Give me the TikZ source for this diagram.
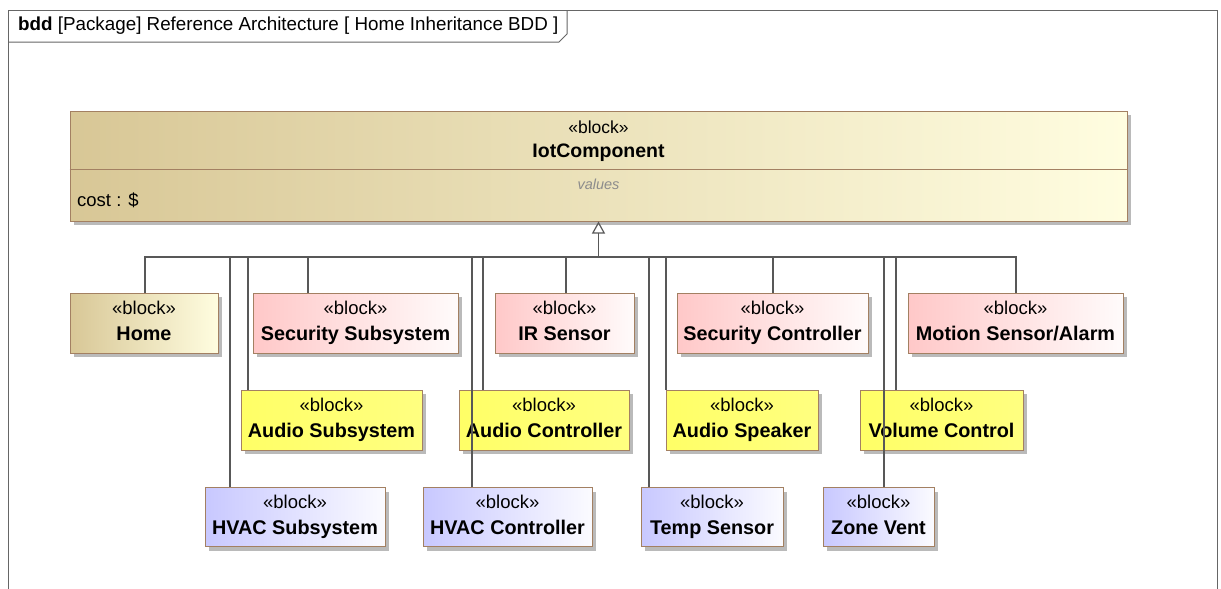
\documentclass[tikz,border=0pt]{standalone}
\usepackage{fontspec}
\setmainfont{Liberation Sans}
\usetikzlibrary{arrows.meta,shadows}

\definecolor{tanleft}{RGB}{216,199,150}
\definecolor{tanright}{RGB}{255,253,224}
\definecolor{pinkleft}{RGB}{255,200,200}
\definecolor{pinkright}{RGB}{255,251,251}
\definecolor{yellowleft}{RGB}{255,255,102}
\definecolor{yellowright}{RGB}{255,255,128}
\definecolor{blueleft}{RGB}{200,200,255}
\definecolor{blueright}{RGB}{251,251,255}
\definecolor{blockedge}{RGB}{163,128,98}
\definecolor{linegray}{RGB}{88,88,88}

\tikzset{
  block/.style={draw=blockedge, line width=1pt, rectangle, inner sep=0pt, align=center,
    minimum height=60pt, text depth=5pt, font=\fontsize{18.5}{26}\selectfont,
    drop shadow={shadow xshift=4pt, shadow yshift=-4pt, fill=black!45, opacity=0.6}},
  tanblock/.style={block, left color=tanleft, right color=tanright},
  pinkblock/.style={block, left color=pinkleft, right color=pinkright},
  yellowblock/.style={block, left color=yellowleft, right color=yellowright},
  blueblock/.style={block, left color=blueleft, right color=blueright},
  gen/.style={draw=linegray, line width=1.2pt},
  frame/.style={draw=black!60, line width=1pt}
}
\newcommand{\bname}[1]{{\fontsize{19.8}{26}\selectfont\bfseries #1}}

\begin{document}
\begin{tikzpicture}[x=1pt, y=-1pt]
\clip (0,0) rectangle (1221,589);
\fill[white] (0,0) rectangle (1221,589);

% diagram frame and its name tab
\draw[frame] (8,600) -- (8,10) -- (1217,10) -- (1217,600);
\draw[frame] (8,42) -- (559,42) -- (567,34) -- (567,10);
\node[anchor=west, inner sep=0pt, font=\fontsize{18.8}{22}\selectfont] (title) at (18,26)
{\textbf{bdd} [Package] Reference Architecture [ Home Inheritance BDD ]};

% general block
\node[tanblock, minimum width=1057pt, minimum height=110pt] (iot) at (598.5,166) {};
\draw[draw=blockedge, line width=1pt] ([yshift=-3pt]iot.west) -- ([yshift=-3pt]iot.east);
\node[font=\fontsize{17.5}{20}\selectfont] (iotst) at (598.5,127) {«block»};
\node[font=\fontsize{19.5}{22}\selectfont\bfseries] (iotname) at (598.5,153) {IotComponent};
\node[font=\fontsize{14.5}{18}\selectfont\itshape, text=black!45] (iotvals) at (598.5,184) {values};
\node[anchor=west, inner sep=0pt, font=\fontsize{18.5}{20}\selectfont] (iotcost) at (77,200) {cost : \$};

% first row
\node[tanblock, minimum width=148pt] (home) at (144,323) {«block»\\\bname{Home}};
\node[pinkblock, minimum width=205pt] (secsub) at (355.5,323) {«block»\\\bname{Security Subsystem}};
\node[pinkblock, minimum width=139pt] (irsens) at (564.5,323) {«block»\\\bname{IR Sensor}};
\node[pinkblock, minimum width=191pt] (secctl) at (772.5,323) {«block»\\\bname{Security Controller}};
\node[pinkblock, minimum width=215pt] (motion) at (1015.5,323) {«block»\\\bname{Motion Sensor/Alarm}};

% second row
\node[yellowblock, minimum width=181pt] (audsub) at (331.5,420) {«block»\\\bname{Audio Subsystem}};
\node[yellowblock, minimum width=170pt] (audctl) at (544,420) {«block»\\\bname{Audio Controller}};
\node[yellowblock, minimum width=152pt] (audspk) at (742,420) {«block»\\\bname{Audio Speaker}};
\node[yellowblock, minimum width=163pt] (volctl) at (941.5,420) {«block»\\\bname{Volume Control}};

% third row
\node[blueblock, minimum width=180pt, minimum height=59pt] (hvacsub) at (295,517) {«block»\\\bname{HVAC Subsystem}};
\node[blueblock, minimum width=169pt, minimum height=59pt] (hvacctl) at (507.5,517) {«block»\\\bname{HVAC Controller}};
\node[blueblock, minimum width=142pt, minimum height=59pt] (temp) at (712,517) {«block»\\\bname{Temp Sensor}};
\node[blueblock, minimum width=111pt, minimum height=59pt] (zone) at (878.5,517) {«block»\\\bname{Zone Vent}};

% generalizations
\coordinate (bus) at (598.5,257);
\foreach \n/\x in {home/145, secsub/308, irsens/566, secctl/773, motion/1016,
                   audsub/248, audctl/483, audspk/666, volctl/896,
                   hvacsub/230, hvacctl/472, temp/649, zone/884}
  \draw[gen] (\n.north -| \x,0) |- (bus);
\draw[gen, -{Triangle[open, length=12pt, width=13pt]}] (bus) -- (iot.south);
\end{tikzpicture}
\end{document}
